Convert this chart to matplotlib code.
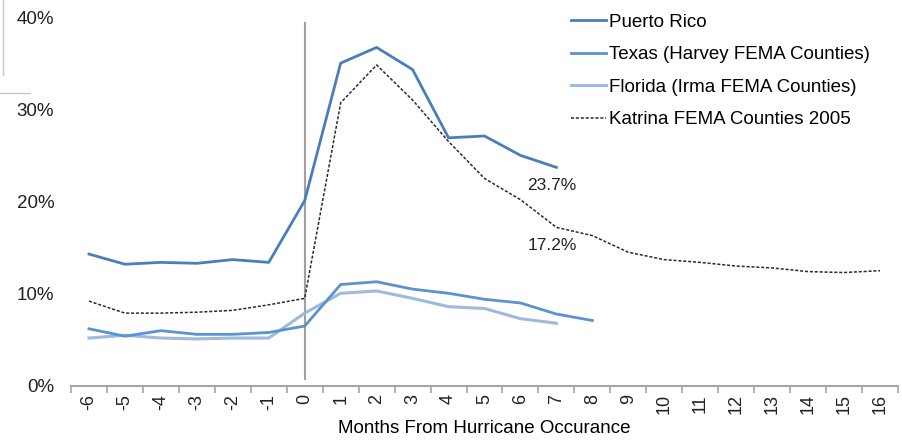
import matplotlib
matplotlib.use('Agg')

import matplotlib.pyplot as plt
from matplotlib.ticker import FuncFormatter, FixedLocator
from matplotlib.lines import Line2D

plt.rcParams['font.family'] = ['Liberation Sans', 'DejaVu Sans']

months = list(range(-6, 17))

puerto_rico = [14.3, 13.2, 13.4, 13.3, 13.7, 13.4, 20.1, 35.0, 36.7, 34.3, 26.9, 27.1, 25.0, 23.7]
texas = [6.2, 5.4, 6.0, 5.6, 5.6, 5.8, 6.5, 11.0, 11.3, 10.5, 10.05, 9.4, 9.0, 7.8, 7.1]
florida = [5.2, 5.5, 5.2, 5.1, 5.2, 5.2, 7.9, 10.05, 10.3, 9.5, 8.6, 8.4, 7.3, 6.8]
katrina = [9.2, 7.9, 7.9, 8.0, 8.2, 8.8, 9.5, 30.7, 34.8, 31.0, 26.5, 22.5, 20.2, 17.2,
           16.3, 14.5, 13.7, 13.4, 13.0, 12.8, 12.4, 12.3, 12.5]

labels = ["Puerto Rico", "Texas (Harvey FEMA Counties)", "Florida (Irma FEMA Counties)",
          "Katrina FEMA Counties 2005"]
annotations = [(7, 23.7, "23.7%"), (7, 17.2, "17.2%")]

fig = plt.figure(figsize=(9.03, 4.42), dpi=100)
ax = fig.add_axes([71 / 903, 56 / 442, 827 / 903, 369 / 442])

ax.plot(months[:len(puerto_rico)], puerto_rico, color='#4a7ebb', lw=2.0, label=labels[0], zorder=4)
ax.plot(months[:len(texas)], texas, color='#5b92d0', lw=2.0, label=labels[1], zorder=3)
ax.plot(months[:len(florida)], florida, color='#9fbadb', lw=2.2, label=labels[2], zorder=2)
ax.plot(months[:len(katrina)], katrina, color='#2a2a2a', lw=1.1, ls=(0, (2, 1.2)), label=labels[3], zorder=3)

ax.axvline(0, ymin=0.02, ymax=0.985, color='#a0a0a0', lw=1.5, zorder=1)

for x, y, s in annotations:
    ax.annotate(s, (x, y), xytext=(-3, -13), textcoords='offset points', ha='center',
                va='center', fontsize=12.5, color='#222222')

ax.set_xlim(-6.5, 16.5)
ax.set_ylim(0, 40)
ax.set_yticks([0, 10, 20, 30, 40])
ax.yaxis.set_major_formatter(FuncFormatter(lambda v, p: "%d%%" % v))
ax.set_xticks(months)
ax.set_xticklabels([str(m) for m in months], rotation=90)
ax.xaxis.set_minor_locator(FixedLocator([m - 0.5 for m in months] + [16.5]))

for s in ['top', 'right', 'left']:
    ax.spines[s].set_visible(False)
ax.spines['bottom'].set_color('#a6a6a6')
ax.spines['bottom'].set_linewidth(1.5)

ax.tick_params(axis='y', length=0, labelsize=13.5, pad=12, labelcolor='#222222')
ax.tick_params(axis='x', which='major', length=0, labelsize=13, pad=6, labelcolor='#222222')
ax.tick_params(axis='x', which='minor', length=5, width=1.2, color='#a6a6a6')

ax.set_xlabel("Months From Hurricane Occurance", fontsize=13.5,
              family=['Liberation Sans Narrow', 'Liberation Sans'], labelpad=4)

ax.legend(loc='upper left', bbox_to_anchor=(0.584, 1.055), frameon=False, fontsize=13.5,
          handlelength=1.9, handletextpad=0.15, labelspacing=0.82)

# faint edges of the cropped source
fig.add_artist(Line2D([3 / 903, 3 / 903], [1, 1 - 75 / 442], color='#c8c8c8', lw=1))
fig.add_artist(Line2D([0, 30 / 903], [1 - 93 / 442, 1 - 93 / 442], color='#c8c8c8', lw=1))

fig.savefig('out.png', dpi=100)
